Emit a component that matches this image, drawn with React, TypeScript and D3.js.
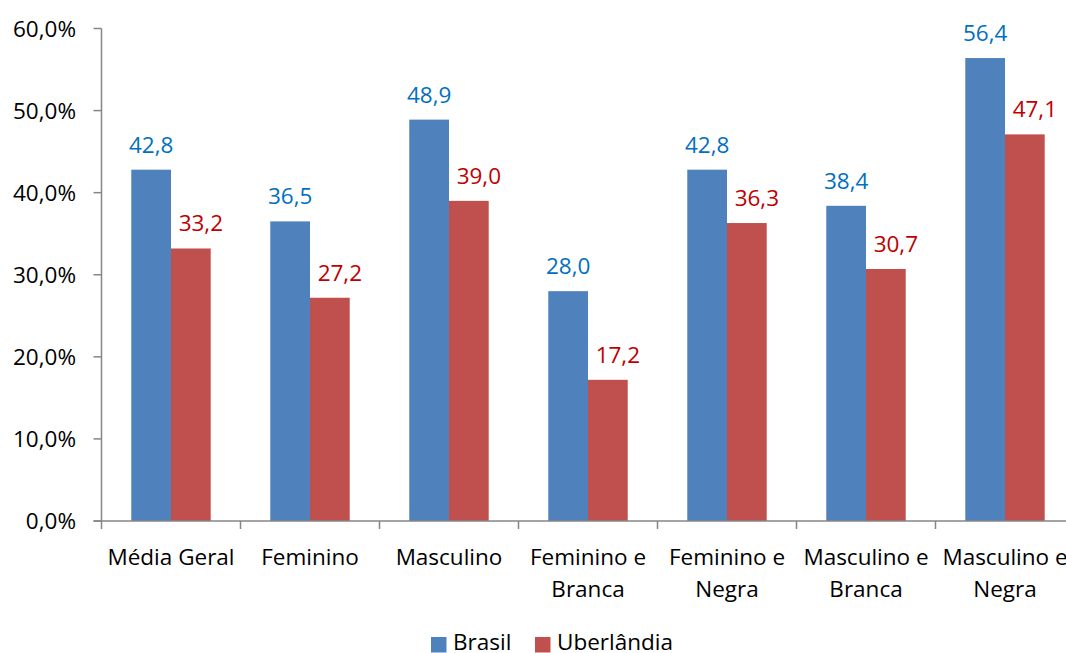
import { useEffect } from "react";
import { scaleBand, scaleLinear } from "d3";

const categories = [
  ["Média Geral"],
  ["Feminino"],
  ["Masculino"],
  ["Feminino e", "Branca"],
  ["Feminino e", "Negra"],
  ["Masculino e", "Branca"],
  ["Masculino e", "Negra"],
];
const seriesNames = ["Brasil", "Uberlândia"];
const brasil = [42.8, 36.5, 48.9, 28.0, 42.8, 38.4, 56.4];
const uberlandia = [33.2, 27.2, 39.0, 17.2, 36.3, 30.7, 47.1];
const yTicks = [0, 10, 20, 30, 40, 50, 60];

const barColors = ["#4F81BD", "#C0504D"];
const labelColors = ["#0070C0", "#C00000"];
const font = "'Open Sans', 'Noto Sans', sans-serif";
const fs = 22.5;

export default function App() {
  useEffect(() => {
    document.body.style.margin = "0";
  }, []);

  const width = 1066;
  const height = 653;
  const left = 101.5;
  const right = 1074.5;
  const top = 28.5;
  const bottom = 521;

  const keys = categories.map((c) => c.join(" "));
  const x = scaleBand().domain(keys).range([left, right]).padding(0);
  const xInner = scaleBand()
    .domain(seriesNames)
    .range([0, x.bandwidth()])
    .paddingInner(0)
    .paddingOuter(0.75);
  const y = scaleLinear().domain([0, 60]).range([bottom, top]);
  const series = [brasil, uberlandia];
  const fmt = (v: number) => v.toFixed(1).replace(".", ",");

  return (
    <svg width={width} height={height} style={{ display: "block", fontFamily: font }}>
      {/* y axis */}
      <line x1={left} x2={left} y1={top} y2={bottom} stroke="#868686" strokeWidth={1.5} />
      {yTicks.map((t) => (
        <g key={t}>
          <line x1={left - 8} x2={left} y1={y(t)} y2={y(t)} stroke="#868686" strokeWidth={1.5} />
          <text x={76} y={y(t)} dy="0.36em" textAnchor="end" fontSize={fs} fill="#000">
            {t.toFixed(1).replace(".", ",")}%
          </text>
        </g>
      ))}
      {/* bars */}
      {keys.map((k, i) =>
        series.map((vals, s) => {
          const bx = (x(k) ?? 0) + (xInner(seriesNames[s]) ?? 0);
          return (
            <rect
              key={k + s}
              x={bx}
              y={y(vals[i])}
              width={xInner.bandwidth()}
              height={bottom - y(vals[i])}
              fill={barColors[s]}
            />
          );
        })
      )}
      {/* value labels */}
      {keys.map((k, i) =>
        series.map((vals, s) => {
          const cx = (x(k) ?? 0) + (xInner(seriesNames[s]) ?? 0) + xInner.bandwidth() / 2 + (s === 1 ? 10 : 0);
          return (
            <text
              key={"l" + k + s}
              x={cx}
              y={y(vals[i]) - 17}
              textAnchor="middle"
              fontSize={fs}
              fill={labelColors[s]}
            >
              {fmt(vals[i])}
            </text>
          );
        })
      )}
      {/* x axis */}
      <line x1={left - 8} x2={right} y1={bottom} y2={bottom} stroke="#868686" strokeWidth={1.5} />
      {[...keys.map((k) => x(k) ?? 0), right].map((bx, i) => (
        <line key={"t" + i} x1={bx} x2={bx} y1={bottom} y2={bottom + 8} stroke="#868686" strokeWidth={1.5} />
      ))}
      {categories.map((lines, i) => (
        <text
          key={"c" + i}
          x={(x(keys[i]) ?? 0) + x.bandwidth() / 2}
          y={565}
          textAnchor="middle"
          fontSize={fs}
          fill="#000"
        >
          {lines.map((ln, j) => (
            <tspan key={j} x={(x(keys[i]) ?? 0) + x.bandwidth() / 2} dy={j === 0 ? 0 : 32}>
              {ln}
            </tspan>
          ))}
        </text>
      ))}
      {/* legend */}
      {seriesNames.map((n, s) => {
        const lx = s === 0 ? 431 : 535;
        return (
          <g key={n}>
            <rect x={lx} y={637} width={15.5} height={15.5} fill={barColors[s]} />
            <text x={lx + 22} y={650} fontSize={fs} fill="#000">
              {n}
            </text>
          </g>
        );
      })}
    </svg>
  );
}
